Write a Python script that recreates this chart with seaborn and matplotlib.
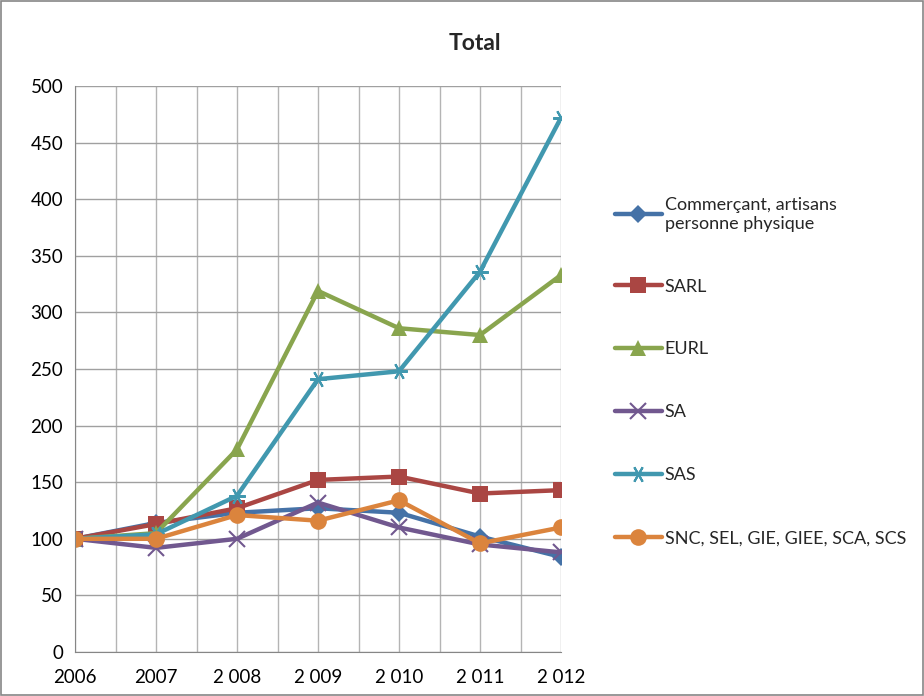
import matplotlib
matplotlib.use("Agg")
import matplotlib.pyplot as plt
from matplotlib.ticker import MultipleLocator
import pandas as pd
import seaborn as sns

# Données (indice base 100 en 2006)
annees = ["2006", "2007", "2 008", "2 009", "2 010", "2 011", "2 012"]
commercant = [100, 114, 123, 127, 123, 102, 84]
sarl = [100, 113, 127, 152, 155, 140, 143]
eurl = [100, 105, 179, 319, 286, 280, 333]
sa = [100, 92, 100, 132, 110, 95, 88]
sas = [100, 104, 138, 241, 248, 336, 472]
snc = [100, 100, 121, 116, 134, 96, 110]

series = {
    "Commerçant, artisans\npersonne physique": commercant,
    "SARL": sarl,
    "EURL": eurl,
    "SA": sa,
    "SAS": sas,
    "SNC, SEL, GIE, GIEE, SCA, SCS": snc,
}
couleurs = ["#4572A7", "#AA4643", "#89A54E", "#71588F", "#4198AF", "#DB843D"]
marqueurs = ["D", "s", "^", "x", (6, 2, 90), "o"]
tailles = [9, 11, 12, 11, 12, 12]

sns.set_style("white")
plt.rcParams["font.family"] = ["Lato", "DejaVu Sans"]

fig = plt.figure(figsize=(9.24, 6.96), dpi=100)
ax = fig.add_axes([75 / 924, 1 - 652 / 696, (561 - 75) / 924, (652 - 86) / 696])

for (nom, valeurs), c, m, t in zip(series.items(), couleurs, marqueurs, tailles):
    df = pd.DataFrame({"x": range(len(annees)), "y": valeurs})
    sns.lineplot(data=df, x="x", y="y", ax=ax, color=c, linewidth=3.2,
                 marker=m, markersize=t, markeredgecolor=c,
                 markeredgewidth=1.5 if m in ("x",) or isinstance(m, tuple) else 0,
                 label=nom, legend=False)

ax.set_xlim(0, len(annees) - 1)
ax.set_ylim(0, 500)
ax.set_xticks(range(len(annees)))
ax.set_xticklabels(annees)
ax.xaxis.set_minor_locator(MultipleLocator(0.5))
ax.yaxis.set_major_locator(MultipleLocator(50))
ax.grid(True, which="both", axis="x", color="#b4b4b4", linewidth=1)
ax.grid(True, which="major", axis="y", color="#a0a0a0", linewidth=1)
ax.set_axisbelow(True)
ax.set_xlabel("")
ax.set_ylabel("")
for s in ["top", "right"]:
    ax.spines[s].set_visible(False)
for s in ["left", "bottom"]:
    ax.spines[s].set_color("#868686")
ax.tick_params(axis="both", which="major", direction="out", length=5,
               color="#868686", labelsize=13.5, labelcolor="black")
ax.tick_params(axis="x", which="minor", length=0)
ax.tick_params(axis="x", pad=7)

fig.text(475 / 924, 1 - 44 / 696, "Total", ha="center", va="center",
         fontsize=16.5, fontweight="bold")

handles, labels = ax.get_legend_handles_labels()
fig.legend(handles, labels, loc="upper left", bbox_to_anchor=(615 / 924, 1 - 197 / 696),
           frameon=False, fontsize=13, labelspacing=2.6, handlelength=2.6,
           handletextpad=0.15, borderaxespad=0, borderpad=0)

fig.patches.append(plt.Rectangle((0.001, 0.001), 0.998, 0.998, transform=fig.transFigure,
                                 fill=False, edgecolor="#868686", linewidth=1.2))

fig.savefig("out.png", dpi=100)
